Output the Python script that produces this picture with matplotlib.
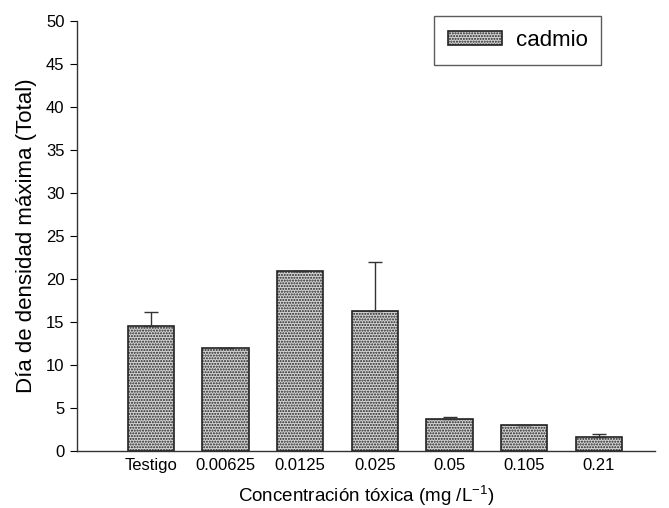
import numpy as np
import matplotlib
matplotlib.use("Agg")
import matplotlib.pyplot as plt

plt.rcParams['font.family'] = ['Liberation Sans', 'DejaVu Sans']
plt.rcParams['hatch.color'] = '#5a5a5a'
plt.rcParams['hatch.linewidth'] = 1.0

# Day of maximum density per cadmium concentration
concentraciones = ['Testigo', '0.00625', '0.0125', '0.025', '0.05', '0.105', '0.21']
dia_max = [14.5, 12.0, 20.9, 16.3, 3.7, 3.0, 1.6]
error_sup = [1.7, 0.0, 0.0, 5.7, 0.3, 0.0, 0.4]

fig = plt.figure(figsize=(6.69, 5.08), dpi=100)
ax = fig.add_axes([0.115, 0.112, 0.864, 0.847])

x = np.arange(len(concentraciones))
yerr = [np.zeros(len(error_sup)), error_sup]
ax.bar(x, dia_max, width=0.62, color='#d4d4d4', edgecolor='#222222',
       linewidth=1.2, hatch='......', label='cadmio', zorder=2)
ax.errorbar(x, dia_max, yerr=yerr, fmt='none', ecolor='#333333',
            elinewidth=1.0, capsize=5, capthick=1.0, zorder=3)

ax.set_xlim(-0.99, 6.75)
ax.set_ylim(0, 50)
ax.set_yticks(np.arange(0, 51, 5))
ax.set_xticks(x)
ax.set_xticklabels(concentraciones, fontsize=12)
ax.tick_params(axis='x', length=0, pad=5)
ax.tick_params(axis='y', direction='out', length=5, labelsize=12, pad=4)

for s in ['top', 'right']:
    ax.spines[s].set_visible(False)
for s in ['left', 'bottom']:
    ax.spines[s].set_color('#333333')
    ax.spines[s].set_linewidth(1.0)

ax.set_ylabel('Día de densidad máxima (Total)', fontsize=16, labelpad=6)
ax.set_xlabel('Concentración tóxica (mg /L$^{\\mathregular{-1}}$)', fontsize=13.5, labelpad=7)

leg = ax.legend(loc='upper right', bbox_to_anchor=(0.907, 1.011), fontsize=16,
                frameon=True, fancybox=False, edgecolor='#333333', borderaxespad=0,
                handlelength=2.45, handleheight=0.55, borderpad=0.62, handletextpad=0.6)
leg.get_frame().set_linewidth(1.0)

fig.savefig('out.png', dpi=100)
